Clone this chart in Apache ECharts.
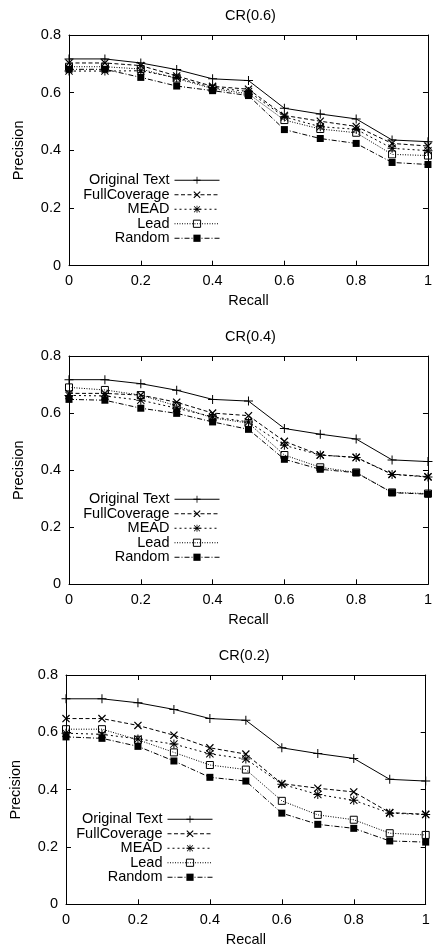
<!DOCTYPE html>
<html>
<head>
<meta charset="utf-8">
<script src="https://cdn.jsdelivr.net/npm/echarts@6/dist/echarts.min.js"></script>
<style>html,body{margin:0;padding:0;background:#fff;}#c{width:435px;height:951px;}</style>
</head>
<body>
<div id="c"></div>
<script>
// ---- data ----
var recall = [0, 0.1, 0.2, 0.3, 0.4, 0.5, 0.6, 0.7, 0.8, 0.9, 1.0];
var seriesNames = ['Original Text', 'FullCoverage', 'MEAD', 'Lead', 'Random'];
var panelTitles = ['CR(0.6)', 'CR(0.4)', 'CR(0.2)'];
var xTicks = [0, 0.2, 0.4, 0.6, 0.8, 1];
var yTicks = [0, 0.2, 0.4, 0.6, 0.8];

var originalText = [0.717, 0.717, 0.703, 0.680, 0.648, 0.642, 0.546, 0.526, 0.509, 0.436, 0.430];

var full06   = [0.703, 0.703, 0.694, 0.658, 0.622, 0.612, 0.521, 0.501, 0.483, 0.424, 0.415];
var mead06   = [0.675, 0.675, 0.676, 0.652, 0.618, 0.604, 0.516, 0.482, 0.473, 0.407, 0.399];
var lead06   = [0.690, 0.690, 0.682, 0.649, 0.614, 0.596, 0.505, 0.474, 0.461, 0.386, 0.382];
var random06 = [0.681, 0.681, 0.653, 0.623, 0.607, 0.590, 0.472, 0.441, 0.424, 0.358, 0.351];

var full04   = [0.669, 0.669, 0.663, 0.638, 0.600, 0.591, 0.501, 0.453, 0.445, 0.386, 0.377];
var mead04   = [0.662, 0.660, 0.645, 0.617, 0.587, 0.569, 0.487, 0.453, 0.444, 0.385, 0.376];
var lead04   = [0.690, 0.681, 0.663, 0.625, 0.583, 0.565, 0.453, 0.410, 0.392, 0.322, 0.318];
var random04 = [0.648, 0.645, 0.617, 0.599, 0.569, 0.543, 0.438, 0.403, 0.391, 0.321, 0.316];

var full02   = [0.648, 0.648, 0.624, 0.590, 0.546, 0.524, 0.421, 0.405, 0.392, 0.320, 0.314];
var mead02   = [0.597, 0.593, 0.577, 0.559, 0.525, 0.507, 0.419, 0.383, 0.363, 0.318, 0.313];
var lead02   = [0.611, 0.611, 0.574, 0.530, 0.486, 0.470, 0.361, 0.312, 0.295, 0.248, 0.242];
var random02 = [0.584, 0.579, 0.551, 0.500, 0.443, 0.430, 0.318, 0.279, 0.265, 0.221, 0.217];

var panelData = [
  [originalText, full06, mead06, lead06, random06],
  [originalText, full04, mead04, lead04, random04],
  [originalText, full02, mead02, lead02, random02]
];

// ---- layout / style ----
var FONT = '"Liberation Sans", Arial, Helvetica, sans-serif';
var FS = 14.5;
var grids = [
  {left: 69, right: 3, top: 35, height: 230.7},
  {left: 69, right: 3, top: 356, height: 228.3},
  {left: 62.7, right: 9.3, top: 675, height: 229.3}
];
var legendRight = [215, 215, 222];
var legendTop0 = [180, 499, 819];
var legendStep = 14.5;

var plusPath = 'path://M0,4 L9,4 L9,5 L0,5 Z M4,0 L5,0 L5,9 L4,9 Z';
var crossPath = 'path://M0,1 L1,0 L9,8 L8,9 Z M8,0 L9,1 L1,9 L0,8 Z';
var starPath = 'path://M0,4 L9,4 L9,5 L0,5 Z M4,0 L5,0 L5,9 L4,9 Z M0.5,1.2 L1.2,0.5 L8.5,7.8 L7.8,8.5 Z M7.8,0.5 L8.5,1.2 L1.2,8.5 L0.5,7.8 Z';

var styles = [
  {symbol: plusPath, size: 9, dash: 'solid', item: {color: '#000', borderColor: '#000', borderWidth: 0}},
  {symbol: crossPath, size: 8, dash: [4, 2.5], item: {color: '#000', borderColor: '#000', borderWidth: 0}},
  {symbol: starPath, size: 9, dash: [2, 3], item: {color: '#000', borderColor: '#000', borderWidth: 0}},
  {symbol: 'rect', size: 7, dash: [1, 1.5], item: {color: 'rgba(255,255,255,0)', borderColor: '#000', borderWidth: 1}},
  {symbol: 'rect', size: 7, dash: [5, 2, 1, 2], item: {color: '#000', borderColor: '#000', borderWidth: 0}}
];

function axisBase(extra) {
  var a = {
    type: 'value',
    axisLine: {show: true, onZero: false, lineStyle: {color: '#000', width: 1}},
    axisTick: {show: true, inside: true, length: 5, lineStyle: {color: '#000', width: 1}},
    splitLine: {show: false},
    axisLabel: {color: '#000', fontSize: FS, fontFamily: FONT, margin: 8},
    nameTextStyle: {color: '#000', fontSize: FS, fontFamily: FONT, fontWeight: 'normal'}
  };
  for (var k in extra) a[k] = extra[k];
  return a;
}

var option = {
  animation: false,
  backgroundColor: '#fff',
  textStyle: {fontFamily: FONT},
  title: [], grid: [], xAxis: [], yAxis: [], legend: [], series: []
};

for (var p = 0; p < 3; p++) {
  var g = grids[p];
  option.grid.push({left: g.left, right: g.right, top: g.top, height: g.height, containLabel: false});
  option.title.push({
    text: panelTitles[p], left: g.left + (435 - g.left - g.right) / 2, top: g.top - 19,
    textAlign: 'center', textVerticalAlign: 'middle', padding: 0,
    textStyle: {color: '#000', fontSize: FS, fontWeight: 'normal', fontFamily: FONT}
  });
  var xMin = xTicks[0], xMax = xTicks[xTicks.length - 1], xInt = xTicks[1] - xTicks[0];
  var yMin = yTicks[0], yMax = yTicks[yTicks.length - 1], yInt = yTicks[1] - yTicks[0];
  option.xAxis.push(axisBase({gridIndex: p, position: 'bottom', min: xMin, max: xMax, interval: xInt,
    name: 'Recall', nameLocation: 'middle', nameGap: 28}));
  option.xAxis.push(axisBase({gridIndex: p, position: 'top', min: xMin, max: xMax, interval: xInt,
    axisLabel: {show: false}}));
  option.yAxis.push(axisBase({gridIndex: p, position: 'left', min: yMin, max: yMax, interval: yInt,
    name: 'Precision', nameLocation: 'middle', nameGap: 43}));
  option.yAxis.push(axisBase({gridIndex: p, position: 'right', min: yMin, max: yMax, interval: yInt,
    axisLabel: {show: false}}));

  for (var s = 0; s < 5; s++) {
    var st = styles[s];
    var vals = panelData[p][s];
    option.series.push({
      type: 'line', name: seriesNames[s],
      xAxisIndex: p * 2, yAxisIndex: p * 2,
      data: recall.map(function (r, i) { return [r, vals[i]]; }),
      symbol: st.symbol, symbolSize: st.size, showAllSymbol: true,
      lineStyle: {color: '#000', width: 1, type: st.dash},
      itemStyle: st.item,
      emphasis: {disabled: true}, silent: true, z: 10 - s
    });
    option.legend.push({
      data: [seriesNames[s]], orient: 'vertical', align: 'right',
      right: legendRight[p], top: legendTop0[p] + s * legendStep - 7.25,
      padding: 0, itemWidth: 45, itemHeight: 9, selectedMode: false,
      lineStyle: {color: '#000', width: 1, type: st.dash},
      itemStyle: {color: st.item.color, borderColor: '#000', borderWidth: st.item.borderWidth},
      textStyle: {color: '#000', fontSize: FS, fontFamily: FONT}
    });
  }
}

var chart = echarts.init(document.getElementById('c'), null, {renderer: 'canvas'});
chart.setOption(option);
</script>
</body>
</html>
